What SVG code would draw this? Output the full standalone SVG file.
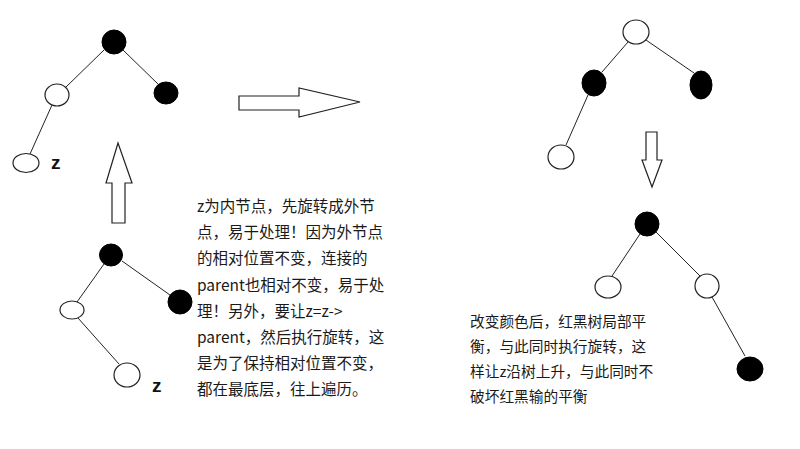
<svg xmlns="http://www.w3.org/2000/svg" width="800" height="449" viewBox="0 0 800 449">
<style>
.edge{stroke:#222;stroke-width:1;fill:none}
.w{fill:#fff;stroke:#222;stroke-width:1.2}
.b{fill:#000;stroke:#000;stroke-width:1}
.arrow{fill:#fff;stroke:#222;stroke-width:1.2}
.lbl{font-family:"Liberation Sans",Arial,sans-serif;font-weight:bold;font-size:19px;fill:#111}
.txt{font-family:"Noto Sans CJK SC","Liberation Sans",sans-serif;font-size:15.5px;fill:#1a1a1a}
.txt2{font-family:"Noto Sans CJK SC","Liberation Sans",sans-serif;font-size:14.7px;fill:#1a1a1a}
</style>
<rect width="800" height="449" fill="#fff"/>
<g id="connectors">
<line class="edge" x1="104" y1="50" x2="65" y2="88"/>
<line class="edge" x1="123" y1="50" x2="159" y2="85"/>
<line class="edge" x1="52" y1="105" x2="30" y2="154"/>
<line class="edge" x1="104" y1="264" x2="77" y2="302"/>
<line class="edge" x1="122" y1="261" x2="170" y2="295"/>
<line class="edge" x1="78" y1="318" x2="119" y2="364"/>
<line class="edge" x1="628" y1="42" x2="602" y2="72"/>
<line class="edge" x1="646" y1="40" x2="694" y2="73"/>
<line class="edge" x1="588" y1="95" x2="566" y2="145"/>
<line class="edge" x1="640" y1="234" x2="612" y2="276"/>
<line class="edge" x1="656" y1="232" x2="700" y2="276"/>
<line class="edge" x1="712" y1="297" x2="745" y2="356"/>
</g>
<g id="arrow-up"><polygon class="arrow" points="118,143 132,183 125,183 125,223 112,223 112,183 106,183"/></g>
<g id="arrow-right"><polygon class="arrow" points="239,96 299,96 299,88 360,102 299,117 299,110 239,110"/></g>
<g id="arrow-down"><polygon class="arrow" points="646,132 657,132 657,160 662,160 652,187 642,160 646,160"/></g>
<g id="t1-root"><ellipse class="b" cx="114" cy="42" rx="12" ry="12"/></g>
<g id="t1-left"><ellipse class="w" cx="57" cy="95" rx="12" ry="11"/></g>
<g id="t1-right"><ellipse class="b" cx="166" cy="93" rx="12" ry="11"/></g>
<g id="t1-z"><ellipse class="w" cx="26" cy="163" rx="13" ry="9.5"/><text class="lbl" x="51" y="169">z</text></g>
<g id="t2-root"><ellipse class="b" cx="111" cy="255" rx="11.5" ry="11"/></g>
<g id="t2-right"><ellipse class="b" cx="180" cy="302" rx="12" ry="12"/></g>
<g id="t2-left"><ellipse class="w" cx="72" cy="310" rx="12" ry="9"/></g>
<g id="t2-z"><ellipse class="w" cx="127" cy="375" rx="13" ry="12"/><text class="lbl" x="152" y="392">z</text></g>
<g id="t3-root"><ellipse class="w" cx="636" cy="32" rx="13" ry="12"/></g>
<g id="t3-left"><ellipse class="b" cx="594" cy="83" rx="12" ry="13"/></g>
<g id="t3-right"><ellipse class="b" cx="701" cy="85" rx="11" ry="14"/></g>
<g id="t3-bottom"><ellipse class="w" cx="561" cy="157" rx="13" ry="12"/></g>
<g id="t4-root"><ellipse class="b" cx="647" cy="224" rx="12" ry="12"/></g>
<g id="t4-left"><ellipse class="w" cx="608" cy="287" rx="13" ry="11"/></g>
<g id="t4-right"><ellipse class="w" cx="707" cy="286" rx="12" ry="12"/></g>
<g id="t4-bottom"><ellipse class="b" cx="750" cy="369" rx="13" ry="12"/></g>
<g id="note1">
<text class="txt" x="197" y="212">z为内节点，先旋转成外节</text>
<text class="txt" x="197" y="238">点，易于处理！因为外节点</text>
<text class="txt" x="197" y="264">的相对位置不变，连接的</text>
<text class="txt" x="197" y="291">parent也相对不变，易于处</text>
<text class="txt" x="197" y="317">理！另外，要让z=z-&gt;</text>
<text class="txt" x="197" y="343">parent，然后执行旋转，这</text>
<text class="txt" x="197" y="369">是为了保持相对位置不变，</text>
<text class="txt" x="197" y="395">都在最底层，往上遍历。</text>
</g>
<g id="note2">
<text class="txt2" x="470" y="327">改变颜色后，红黑树局部平</text>
<text class="txt2" x="470" y="352">衡，与此同时执行旋转，这</text>
<text class="txt2" x="470" y="377">样让z沿树上升，与此同时不</text>
<text class="txt2" x="470" y="402">破坏红黑输的平衡</text>
</g>
</svg>
